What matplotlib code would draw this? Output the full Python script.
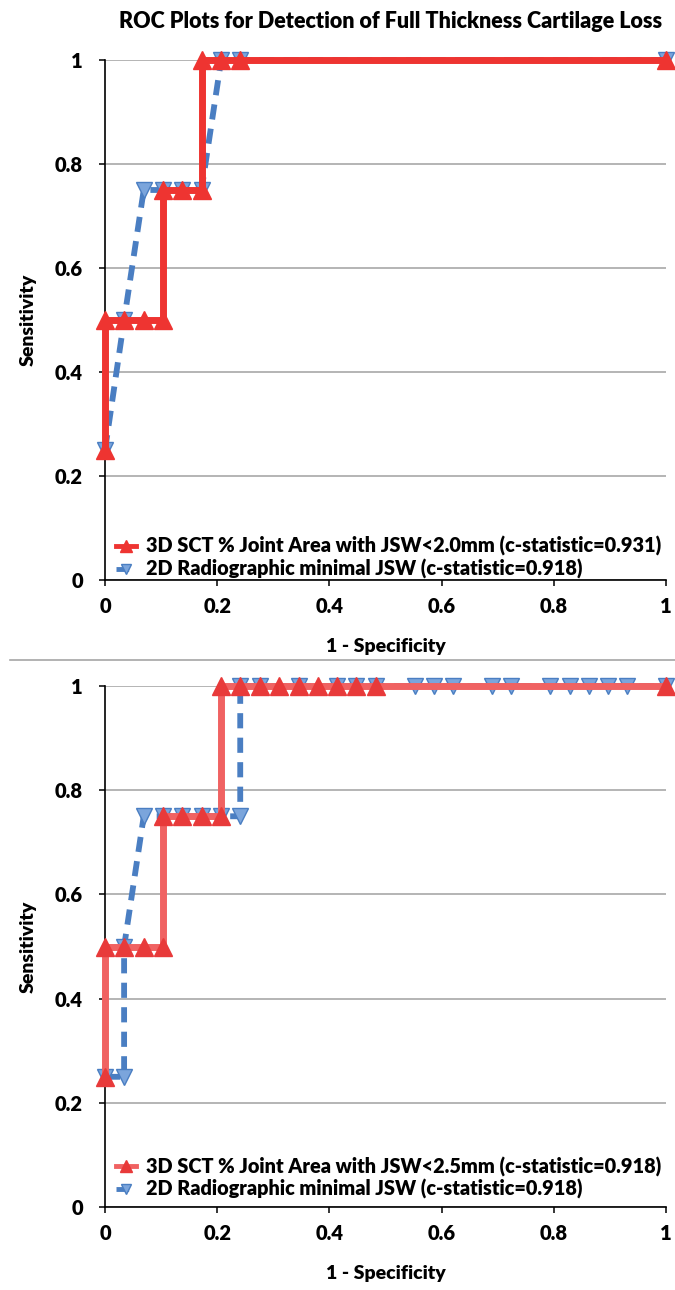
import matplotlib
matplotlib.use("Agg")
import matplotlib.pyplot as plt
from matplotlib.lines import Line2D
from matplotlib.ticker import FuncFormatter, MultipleLocator

plt.rcParams['font.family'] = ['Lato', 'DejaVu Sans']
plt.rcParams['font.weight'] = 'bold'

# ---- data (1 - specificity, sensitivity) ----
top_sct_fpr = [0, 0, 0.034, 0.069, 0.103, 0.103, 0.138, 0.172, 0.172, 0.207, 0.241, 1]
top_sct_tpr = [0.25, 0.5, 0.5, 0.5, 0.5, 0.75, 0.75, 0.75, 1, 1, 1, 1]
top_jsw_fpr = [0, 0.034, 0.069, 0.103, 0.138, 0.172, 0.207, 0.241, 1]
top_jsw_tpr = [0.25, 0.5, 0.75, 0.75, 0.75, 0.75, 1, 1, 1]

bot_sct_fpr = [0, 0, 0.034, 0.069, 0.103, 0.103, 0.138, 0.172, 0.207, 0.207,
               0.241, 0.276, 0.310, 0.345, 0.379, 0.414, 0.448, 0.483, 1]
bot_sct_tpr = [0.25, 0.5, 0.5, 0.5, 0.5, 0.75, 0.75, 0.75, 0.75, 1,
               1, 1, 1, 1, 1, 1, 1, 1, 1]
bot_jsw_fpr = [0, 0.034, 0.034, 0.069, 0.103, 0.138, 0.172, 0.207, 0.241, 0.241,
               0.276, 0.345, 0.414, 0.448, 0.483, 0.552, 0.586, 0.621, 0.690,
               0.724, 0.793, 0.828, 0.862, 0.897, 0.931, 1]
bot_jsw_tpr = [0.25, 0.25, 0.5, 0.75, 0.75, 0.75, 0.75, 0.75, 0.75, 1,
               1, 1, 1, 1, 1, 1, 1, 1, 1,
               1, 1, 1, 1, 1, 1, 1]

top_labels = ["3D SCT % Joint Area with JSW<2.0mm (c-statistic=0.931)",
              "2D Radiographic minimal JSW (c-statistic=0.918)"]
bot_labels = ["3D SCT % Joint Area with JSW<2.5mm (c-statistic=0.918)",
              "2D Radiographic minimal JSW (c-statistic=0.918)"]
title = "ROC Plots for Detection of Full Thickness Cartilage Loss"

BLUE = '#4A7EC2'
BLUE_FACE = '#7BA5DC'

fig = plt.figure(figsize=(6.75, 12.9), dpi=100)
ax1 = fig.add_axes([0.1556, 0.5504, 0.8311, 0.4031])
ax2 = fig.add_axes([0.1556, 0.0643, 0.8311, 0.4039])


def style_axes(ax):
    ax.set_xlim(0, 1)
    ax.set_ylim(0, 1)
    ax.xaxis.set_major_locator(MultipleLocator(0.2))
    ax.yaxis.set_major_locator(MultipleLocator(0.2))
    fmt = FuncFormatter(lambda v, p: '%g' % round(v, 1))
    ax.xaxis.set_major_formatter(fmt)
    ax.yaxis.set_major_formatter(fmt)
    ax.grid(axis='y', color='#A0A0A0', lw=1.1, zorder=0)
    ax.set_axisbelow(True)
    for s in ('top', 'right'):
        ax.spines[s].set_visible(False)
    for s in ('left', 'bottom'):
        ax.spines[s].set_color('black')
        ax.spines[s].set_linewidth(1.2)
    ax.tick_params(axis='y', length=4, width=1.1, pad=12, labelsize=14.5)
    ax.tick_params(axis='x', length=4, width=1.1, pad=8, labelsize=14.5)
    ax.set_xlabel('1 - Specificity', fontsize=14, fontweight='heavy', labelpad=16)
    ax.set_ylabel('Sensitivity', fontsize=14, fontweight='heavy', labelpad=13)
    for t in ax.get_xticklabels() + ax.get_yticklabels():
        t.set_fontweight('heavy')


def draw(ax, sx, sy, bx, by, labels, red_line, red_mark, legend_y):
    ax.plot(bx, by, color=BLUE, lw=4.2, ls=(0, (2.6, 1.6)), marker='v', ms=11,
            mfc=BLUE_FACE, mec=BLUE, mew=1, clip_on=False, zorder=3, label=labels[1])
    ax.plot(sx, sy, color=red_line, lw=5, marker='^', ms=13,
            mfc=red_mark, mec=red_mark, clip_on=False, zorder=4, label=labels[0])
    h, l = ax.get_legend_handles_labels()
    leg = ax.legend(h[::-1], l[::-1], loc='lower left', bbox_to_anchor=(-0.005, legend_y),
                    frameon=False, fontsize=14.3, handlelength=1.0, handletextpad=0.5,
                    labelspacing=0.13, markerscale=0.7, borderaxespad=0.3)
    for t in leg.get_texts():
        t.set_fontweight('heavy')
    for hl in leg.legend_handles:
        hl.set_linewidth(3.5)


style_axes(ax1)
style_axes(ax2)
draw(ax1, top_sct_fpr, top_sct_tpr, top_jsw_fpr, top_jsw_tpr, top_labels,
     '#EE3431', '#EE3431', -0.025)
draw(ax2, bot_sct_fpr, bot_sct_tpr, bot_jsw_fpr, bot_jsw_tpr, bot_labels,
     '#F06262', '#E83A3A', -0.012)

fig.text(0.578, 0.983, title, ha='center', va='center', fontsize=15.5, fontweight='heavy')
fig.add_artist(Line2D([0.015, 1.0], [0.4884, 0.4884], color='#A6A6A6', lw=1.2))

fig.savefig('out.png', dpi=100)
